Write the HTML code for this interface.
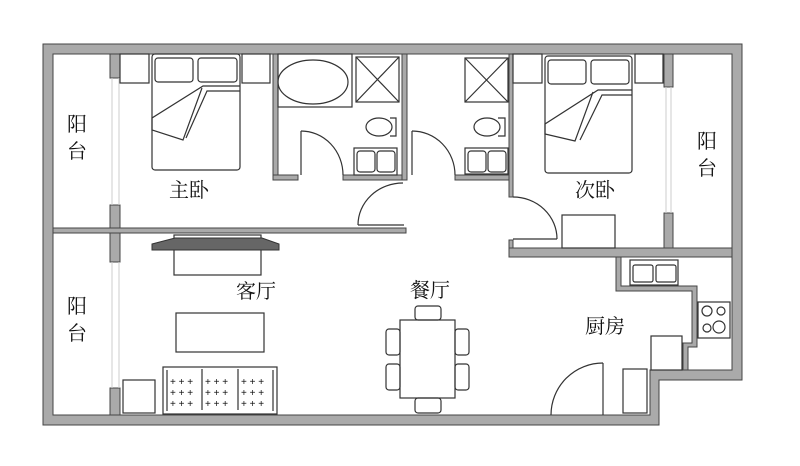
<!DOCTYPE html>
<html><head><meta charset="utf-8"><style>
html,body{margin:0;padding:0;background:#fff;width:800px;height:466px;overflow:hidden}
svg{display:block}
text{font-family:"Liberation Serif","Noto Serif CJK SC",serif;font-size:20px;fill:#111}
</style></head><body>
<svg width="800" height="466" viewBox="0 0 800 466" xmlns="http://www.w3.org/2000/svg">
<g stroke="#444" stroke-width="1" fill="#aaa">
<path fill-rule="evenodd" d="M43,44H742V380H659V425H43Z M53,54H732V370H650V415H53Z"/>
<rect x="53" y="228" width="353" height="5"/>
<rect x="110" y="54" width="10" height="24"/>
<rect x="110" y="205" width="10" height="23"/>
<rect x="110" y="233" width="10" height="29"/>
<rect x="110" y="388" width="10" height="27"/>
<rect x="664" y="54" width="9" height="33"/>
<rect x="664" y="213" width="9" height="35"/>
<rect x="273" y="54" width="5" height="126"/>
<rect x="273" y="175" width="25" height="5"/>
<rect x="343" y="175" width="64" height="5"/>
<rect x="402" y="54" width="5" height="126"/>
<rect x="455" y="175" width="58" height="5"/>
<rect x="509" y="54" width="4" height="143"/>
<rect x="509" y="240" width="4" height="17"/>
<rect x="509" y="248" width="223" height="9"/>
<path d="M616,257H621V286H697V347H688V370H683V343H692V291H616Z"/>
</g>
<g stroke="#ccc" stroke-width="1" fill="none">
<line x1="112" y1="78" x2="112" y2="205"/><line x1="119" y1="78" x2="119" y2="205"/>
<line x1="112" y1="262" x2="112" y2="388"/><line x1="119" y1="262" x2="119" y2="388"/>
<line x1="666" y1="87" x2="666" y2="213"/><line x1="671" y1="87" x2="671" y2="213"/>
</g>
<g stroke="#333" stroke-width="1.2" fill="none">
<line x1="358" y1="225" x2="404" y2="225"/><path d="M403,183 A45,42 0 0 0 358,225"/>
<line x1="301" y1="131" x2="301" y2="175"/><path d="M301,131 A42,44 0 0 1 343,175"/>
<line x1="412" y1="131" x2="412" y2="175"/><path d="M412,131 A43,44 0 0 1 455,175"/>
<line x1="513" y1="239" x2="557" y2="239"/><path d="M513,197 A44,42 0 0 1 557,239"/>
<line x1="603" y1="363" x2="603" y2="415"/><path d="M603,363 A52,52 0 0 0 551,415"/>
<rect x="152" y="54" width="88" height="116" rx="3"/>
<rect x="155" y="58" width="38" height="24" rx="3"/><rect x="198" y="58" width="39" height="24" rx="3"/>
<path d="M240,86H203L152,118L152,130L183,140L202,88 M240,91H207L186,138"/>
<rect x="120" y="54" width="29" height="29"/><rect x="242" y="54" width="28" height="29"/>
<rect x="278" y="54" width="74" height="53"/>
<ellipse cx="313" cy="82" rx="35" ry="22"/>
<rect x="356" y="57" width="43" height="45"/><path d="M356,57L399,102M399,57L356,102"/>
<ellipse cx="379" cy="127" rx="13" ry="9"/><path d="M390,118h6v18h-6"/>
<rect x="354" y="148" width="43" height="27"/><rect x="357" y="151" width="18" height="21" rx="3"/><rect x="377" y="151" width="18" height="21" rx="3"/>
<rect x="465" y="58" width="43" height="44"/><path d="M465,58L508,102M508,58L465,102"/>
<ellipse cx="487" cy="127" rx="13" ry="9"/><path d="M498,118h7v18h-7"/>
<rect x="465" y="148" width="43" height="26"/><rect x="468" y="151" width="18" height="21" rx="3"/><rect x="488" y="151" width="18" height="21" rx="3"/>
<rect x="545" y="56" width="87" height="117" rx="3"/>
<rect x="548" y="60" width="38" height="24" rx="3"/><rect x="591" y="60" width="38" height="24" rx="3"/>
<path d="M632,90H598L545,124L545,134L575,141L593,92 M632,95H602L580,140"/>
<rect x="513" y="54" width="29" height="29"/><rect x="635" y="54" width="28" height="29"/>
<rect x="562" y="215" width="53" height="33"/>
<rect x="174" y="235" width="87" height="40"/>
<rect x="176" y="313" width="88" height="39"/>
<rect x="163" y="367" width="114" height="47"/>
<path d="M167,370V411M273,370V411M202,369V410M238,369V410"/>
<rect x="123" y="380" width="32" height="33"/>
<rect x="400" y="320" width="55" height="78"/>
<rect x="415" y="306" width="26" height="14" rx="3"/><rect x="415" y="398" width="26" height="15" rx="3"/>
<rect x="386" y="329" width="14" height="26" rx="3"/><rect x="386" y="364" width="14" height="26" rx="3"/>
<rect x="455" y="329" width="14" height="26" rx="3"/><rect x="455" y="364" width="14" height="26" rx="3"/>
<rect x="630" y="260" width="48" height="25"/><rect x="633" y="265" width="20" height="17" rx="2"/><rect x="656" y="265" width="20" height="17" rx="2"/>
<rect x="698" y="302" width="32" height="36"/>
<circle cx="707" cy="311" r="5"/><circle cx="721" cy="311" r="4"/><circle cx="707" cy="328" r="4"/><circle cx="719" cy="327" r="6"/>
<rect x="651" y="336" width="31" height="34"/>
<rect x="623" y="369" width="24" height="44"/>
</g>
<path d="M152,244L175,238H262L279,244V250H152Z" fill="#666" stroke="#333"/>
<g fill="#333">
<text x="170" y="385" style="font-size:10px;font-family:'Liberation Sans',sans-serif">+ + +</text><text x="170" y="396" style="font-size:10px;font-family:'Liberation Sans',sans-serif">+ + +</text><text x="170" y="407" style="font-size:10px;font-family:'Liberation Sans',sans-serif">+ + +</text>
<text x="205" y="385" style="font-size:10px;font-family:'Liberation Sans',sans-serif">+ + +</text><text x="205" y="396" style="font-size:10px;font-family:'Liberation Sans',sans-serif">+ + +</text><text x="205" y="407" style="font-size:10px;font-family:'Liberation Sans',sans-serif">+ + +</text>
<text x="241" y="385" style="font-size:10px;font-family:'Liberation Sans',sans-serif">+ + +</text><text x="241" y="396" style="font-size:10px;font-family:'Liberation Sans',sans-serif">+ + +</text><text x="241" y="407" style="font-size:10px;font-family:'Liberation Sans',sans-serif">+ + +</text>
</g>
<text x="67" y="131">阳</text><text x="67" y="158">台</text>
<text x="67" y="313">阳</text><text x="67" y="340">台</text>
<text x="697" y="148">阳</text><text x="697" y="175">台</text>
<text x="169" y="197">主卧</text>
<text x="575" y="197">次卧</text>
<text x="236" y="298">客厅</text>
<text x="410" y="297">餐厅</text>
<text x="585" y="333">厨房</text>
</svg>
</body></html>
